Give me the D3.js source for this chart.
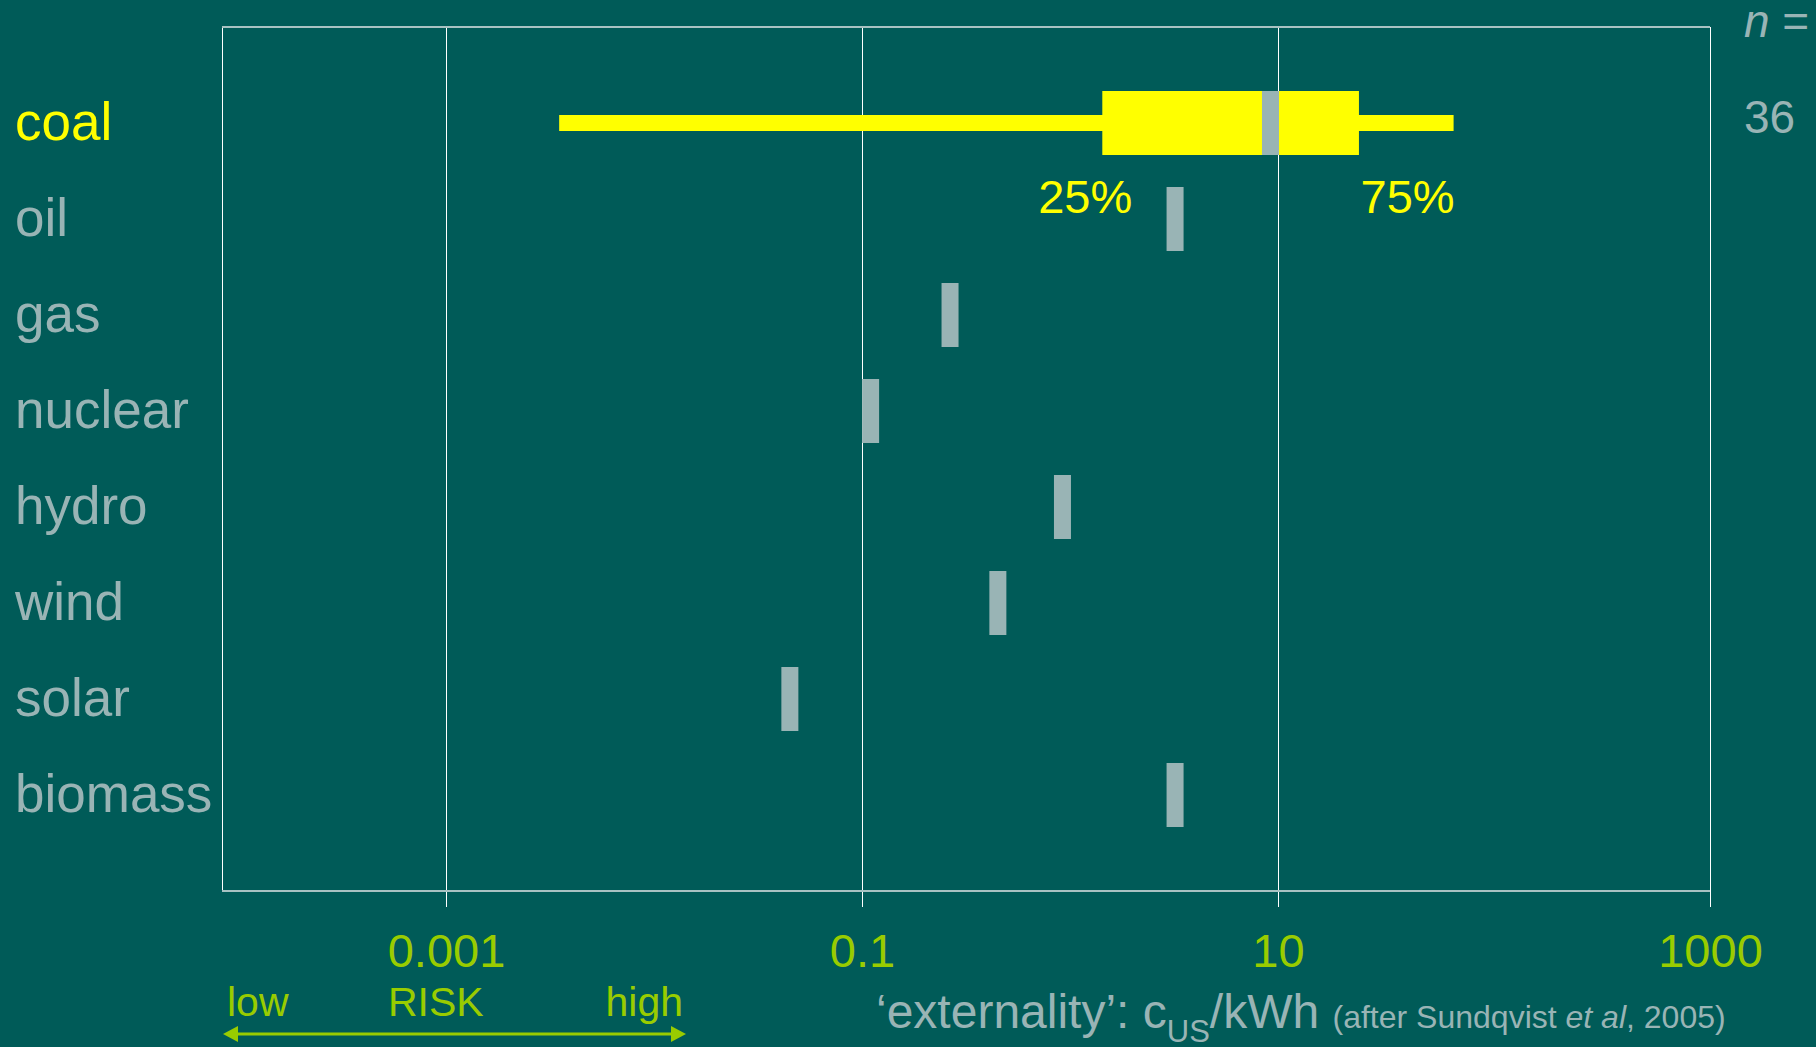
<!DOCTYPE html>
<html>
<head>
<meta charset="utf-8">
<script src="https://cdn.jsdelivr.net/npm/d3@7"></script>
<style>
  html, body { margin: 0; padding: 0; background: #005b58; }
  svg { display: block; }
  text { font-family: "Liberation Sans", Arial, Helvetica, sans-serif; }
</style>
</head>
<body>
<svg id="chart" width="1816" height="1047"></svg>
<script>
// Energy sources, top to bottom
const categories = ["coal", "oil", "gas", "nuclear", "hydro", "wind", "solar", "biomass"];
// Median external cost per source (US cents / kWh)
const medians = [9.2, 3.2, 0.265, 0.11, 0.92, 0.45, 0.045, 3.2];
// Spread of the coal estimates: minimum, 25th percentile, 75th percentile, maximum
const coalSpread = [0.0035, 1.43, 23.7, 65];
const coalCount = 36;
// Log axis ticks and their labels
const tickValues = [0.001, 0.1, 10, 1000];
const tickLabels = ["0.001", "0.1", "10", "1000"];

const GREY = "#99b4b5", YELLOW = "#ffff00", GREEN = "#99cc00";

const svg = d3.select("#chart");
const plotTop = 27, plotBottom = 891, plotLeft = 222, plotRight = 1710;

// Piecewise log scale: each pair of decades takes its own span on the axis
const x = d3.scaleLog()
  .domain([0.000085, 0.001, 0.1, 10, 1000])
  .range([plotLeft, 446, 862, 1278, plotRight]);

const y = d3.scalePoint()
  .domain(categories)
  .range([plotTop, plotBottom])
  .padding(1);

// Gridlines + tick labels
const axis = d3.axisBottom(x)
  .tickValues(tickValues)
  .tickFormat((d, i) => tickLabels[i])
  .tickSizeInner(-(907 - plotTop))
  .tickSizeOuter(0)
  .tickPadding(27);

const ax = svg.append("g")
  .attr("transform", "translate(0,907)")
  .call(axis);
ax.select(".domain").remove();
ax.selectAll(".tick line").attr("stroke", "#ffffff").attr("stroke-width", 1).attr("shape-rendering", "crispEdges");
ax.selectAll(".tick text")
  .attr("fill", GREEN)
  .attr("font-size", 47)
  .attr("font-family", "'Liberation Sans', Arial, sans-serif");

// Plot frame
const frame = svg.append("g").attr("shape-rendering", "crispEdges");
frame.append("line").attr("x1", plotLeft).attr("x2", plotLeft).attr("y1", plotTop).attr("y2", plotBottom)
  .attr("stroke", "#ffffff").attr("stroke-width", 1);
frame.append("line").attr("x1", plotRight).attr("x2", plotRight).attr("y1", plotTop).attr("y2", plotBottom)
  .attr("stroke", "#ffffff").attr("stroke-width", 1);
frame.append("line").attr("x1", plotLeft).attr("x2", plotRight).attr("y1", plotTop).attr("y2", plotTop)
  .attr("stroke", "#a8c2c2").attr("stroke-width", 2);
frame.append("line").attr("x1", plotLeft).attr("x2", plotRight).attr("y1", plotBottom).attr("y2", plotBottom)
  .attr("stroke", "#a8c2c2").attr("stroke-width", 2);

// Coal: whisker and inter-quartile box
const [cMin, cQ1, cQ3, cMax] = coalSpread;
const cy = y("coal");
svg.append("rect")
  .attr("x", x(cMin)).attr("width", x(cMax) - x(cMin))
  .attr("y", cy - 8).attr("height", 16)
  .attr("fill", YELLOW);
svg.append("rect")
  .attr("x", x(cQ1)).attr("width", x(cQ3) - x(cQ1))
  .attr("y", cy - 32).attr("height", 64)
  .attr("fill", YELLOW);

// Median markers
const barW = 17, barH = 64;
svg.append("g").selectAll("rect")
  .data(categories)
  .join("rect")
  .attr("x", (d, i) => x(medians[i]) - barW / 2)
  .attr("y", d => y(d) - barH / 2)
  .attr("width", barW)
  .attr("height", barH)
  .attr("fill", GREY);

// Percentile labels under the coal box
svg.append("text")
  .attr("x", x(cQ1) + 30).attr("y", 213)
  .attr("text-anchor", "end")
  .attr("font-size", 47).attr("fill", YELLOW)
  .text("25%");
svg.append("text")
  .attr("x", x(cMax) + 1).attr("y", 213)
  .attr("text-anchor", "end")
  .attr("font-size", 47).attr("fill", YELLOW)
  .text("75%");

// Category labels
svg.append("g").selectAll("text")
  .data(categories)
  .join("text")
  .attr("x", 15)
  .attr("y", d => y(d) + 17)
  .attr("font-size", 53)
  .attr("fill", d => d === "coal" ? YELLOW : GREY)
  .text(d => d);

// Sample size column
const nLabel = svg.append("text")
  .attr("x", 1744).attr("y", 37)
  .attr("font-size", 46).attr("fill", GREY);
nLabel.append("tspan").attr("font-style", "italic").text("n");
nLabel.append("tspan").text(" =");
svg.append("text")
  .attr("x", 1744).attr("y", 133)
  .attr("font-size", 46).attr("fill", GREY)
  .text(coalCount);

// Axis title
const title = svg.append("text")
  .attr("x", 876).attr("y", 1028)
  .attr("fill", GREY).attr("font-size", 48);
title.append("tspan").text("\u2018externality\u2019: c");
title.append("tspan").attr("font-size", 31).attr("dy", 14).text("US");
title.append("tspan").attr("dy", -14).text("/kWh ");
title.append("tspan").attr("font-size", 32).text("(after Sundqvist ");
title.append("tspan").attr("font-size", 32).attr("font-style", "italic").text("et al");
title.append("tspan").attr("font-size", 32).text(", 2005)");

// Risk direction arrow
svg.append("text").attr("x", 227).attr("y", 1016)
  .attr("font-size", 41).attr("fill", GREEN).text("low");
svg.append("text").attr("x", 388).attr("y", 1016)
  .attr("font-size", 41).attr("fill", GREEN).text("RISK");
svg.append("text").attr("x", 683).attr("y", 1016).attr("text-anchor", "end")
  .attr("font-size", 41).attr("fill", GREEN).text("high");

const ay = 1034, aL = 223, aR = 686;
svg.append("line")
  .attr("x1", aL + 10).attr("x2", aR - 10).attr("y1", ay).attr("y2", ay)
  .attr("stroke", GREEN).attr("stroke-width", 3);
svg.append("path")
  .attr("d", `M${aL},${ay} L${aL + 15},${ay - 8} L${aL + 15},${ay + 8} Z`)
  .attr("fill", GREEN);
svg.append("path")
  .attr("d", `M${aR},${ay} L${aR - 15},${ay - 8} L${aR - 15},${ay + 8} Z`)
  .attr("fill", GREEN);
</script>
</body>
</html>
